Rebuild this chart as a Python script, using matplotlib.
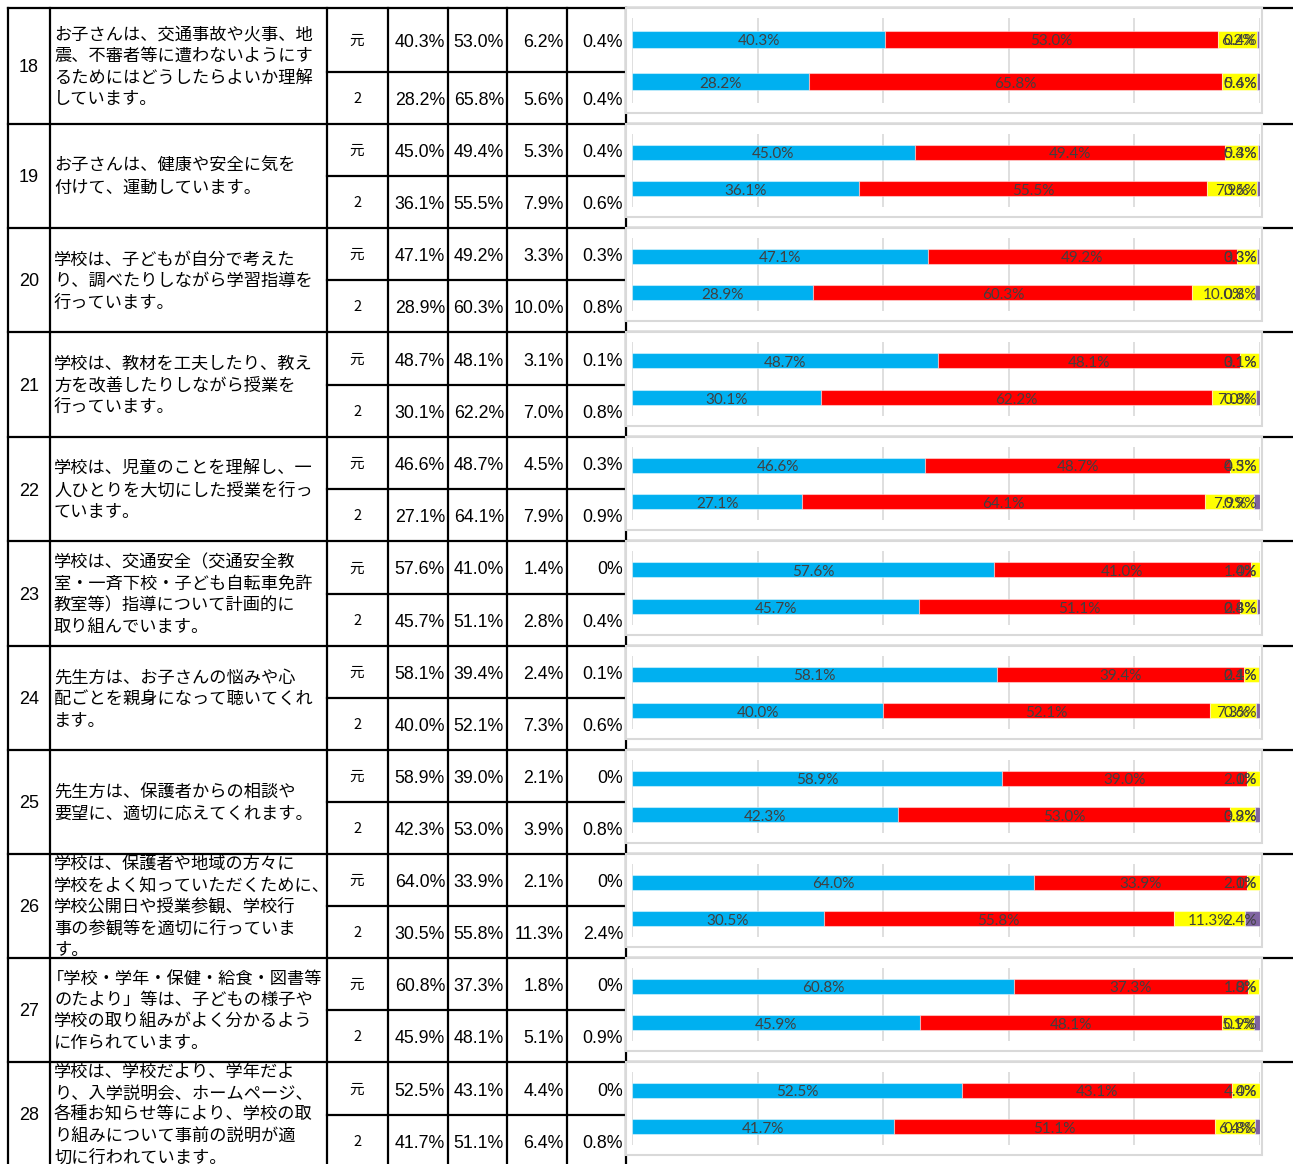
import matplotlib
matplotlib.use("Agg")
import matplotlib.pyplot as plt
from matplotlib import font_manager
from matplotlib.patches import Rectangle

# ---- data -------------------------------------------------------------
items = ["18", "19", "20", "21", "22", "23", "24", "25", "26", "27", "28"]
questions = [
    ["お子さんは、交通事故や火事、地", "震、不審者等に遭わないようにす", "るためにはどうしたらよいか理解", "しています。"],
    ["お子さんは、健康や安全に気を", "付けて、運動しています。"],
    ["学校は、子どもが自分で考えた", "り、調べたりしながら学習指導を", "行っています。"],
    ["学校は、教材を工夫したり、教え", "方を改善したりしながら授業を", "行っています。"],
    ["学校は、児童のことを理解し、一", "人ひとりを大切にした授業を行っ", "ています。"],
    ["学校は、交通安全（交通安全教", "室・一斉下校・子ども自転車免許", "教室等）指導について計画的に", "取り組んでいます。"],
    ["先生方は、お子さんの悩みや心", "配ごとを親身になって聴いてくれ", "ます。"],
    ["先生方は、保護者からの相談や", "要望に、適切に応えてくれます。"],
    ["学校は、保護者や地域の方々に", "学校をよく知っていただくために、", "学校公開日や授業参観、学校行", "事の参観等を適切に行っていま", "す。"],
    ["「学校・学年・保健・給食・図書等", "のたより」等は、子どもの様子や", "学校の取り組みがよく分かるよう", "に作られています。"],
    ["学校は、学校だより、学年だよ", "り、入学説明会、ホームページ、", "各種お知らせ等により、学校の取", "り組みについて事前の説明が適", "切に行われています。"],
]
years = ["元", "2"]
# [元, 2] per item
agree = [[40.3, 28.2], [45.0, 36.1], [47.1, 28.9], [48.7, 30.1], [46.6, 27.1], [57.6, 45.7],
         [58.1, 40.0], [58.9, 42.3], [64.0, 30.5], [60.8, 45.9], [52.5, 41.7]]
some_agree = [[53.0, 65.8], [49.4, 55.5], [49.2, 60.3], [48.1, 62.2], [48.7, 64.1], [41.0, 51.1],
              [39.4, 52.1], [39.0, 53.0], [33.9, 55.8], [37.3, 48.1], [43.1, 51.1]]
some_disagree = [[6.2, 5.6], [5.3, 7.9], [3.3, 10.0], [3.1, 7.0], [4.5, 7.9], [1.4, 2.8],
                 [2.4, 7.3], [2.1, 3.9], [2.1, 11.3], [1.8, 5.1], [4.4, 6.4]]
disagree = [[0.4, 0.4], [0.4, 0.6], [0.3, 0.8], [0.1, 0.8], [0.3, 0.9], [0.0, 0.4],
            [0.1, 0.6], [0.0, 0.8], [0.0, 2.4], [0.0, 0.9], [0.0, 0.8]]
series = [agree, some_agree, some_disagree, disagree]
colors = ["#00B0F0", "#FF0000", "#FFFF00", "#8064A2"]

# ---- layout (pixels) --------------------------------------------------
W, H = 1293, 1164
block_top = [8, 124, 228, 332, 437, 541, 646, 750, 854, 958, 1062]
block_mid = [72, 176, 280, 385, 489, 594, 698, 802, 906, 1010, 1115]
block_bot = block_top[1:] + [1166]
col_x = [8, 50, 327, 388, 448, 507, 567, 626]
plot_l, plot_r = 632, 1260
box_l, box_r = 626, 1262

_names = {f.name for f in font_manager.fontManager.ttflist}
if "Liberation Sans Narrow" in _names:
    NUM_FONT, NUM_SIZE, ID_SIZE = "Liberation Sans Narrow", 15, 14
else:
    NUM_FONT, NUM_SIZE, ID_SIZE = "Liberation Sans", 12.8, 13
JP = ["Noto Sans CJK JP", "DejaVu Sans"]
LABEL_FONT = "Lato" if "Lato" in _names else "DejaVu Sans"


def fmt(v):
    return "0%" if v == 0 else f"{v:.1f}%"


fig = plt.figure(figsize=(W / 100, H / 100), dpi=100)
bg = fig.add_axes([0, 0, 1, 1])
bg.set_xlim(0, W)
bg.set_ylim(H, 0)
bg.axis("off")

lw = 1.6
# table grid
for t in block_top:
    bg.plot([col_x[0], W], [t, t], color="black", lw=lw, zorder=1)
for m in block_mid:
    bg.plot([col_x[2], col_x[-1]], [m, m], color="black", lw=lw, zorder=1)
for x in col_x:
    bg.plot([x, x], [block_top[0], H], color="black", lw=lw, zorder=1)

labels = []
for i, item in enumerate(items):
    top, mid, bot = block_top[i], block_mid[i], block_bot[i]
    cy = (top + bot) / 2
    bg.text(29, cy + 2, item, ha="center", va="center", family=NUM_FONT, fontsize=ID_SIZE)
    lines = questions[i]
    n = len(lines)
    for k, line in enumerate(lines):
        y = cy + (k - (n - 1) / 2) * 21.6 + 1
        # full-width opening bracket carries its own left padding
        x0 = 47 if line.startswith("「") else 54
        bg.text(x0, y, line, ha="left", va="center", family=JP, fontsize=12.4)
    rows_y = [(top + mid) / 2, (mid + bot) / 2]
    for j, yr in enumerate(years):
        bg.text(357, rows_y[j] + 1, yr, ha="center", va="center", family=JP, fontsize=10.5)
        for s in range(4):
            bg.text(col_x[s + 4] - 3, rows_y[j] + 2.5, fmt(series[s][i][j]), ha="right",
                    va="center", family=NUM_FONT, fontsize=NUM_SIZE)

    # chart panel
    box_t, box_b = top, bot - 11
    bg.add_patch(Rectangle((box_l, box_t), box_r - box_l, box_b - box_t, facecolor="white",
                           edgecolor="#D9D9D9", lw=1.5, zorder=5))
    p_t, p_b = box_t + 10, box_b - 10
    ax = fig.add_axes([plot_l / W, 1 - p_b / H, (plot_r - plot_l) / W, (p_b - p_t) / H])
    ax.set_xlim(0, 100)
    ax.set_ylim(1.5, -0.5)
    ax.patch.set_alpha(0)
    for sp in ax.spines.values():
        sp.set_visible(False)
    ax.set_xticks([0, 20, 40, 60, 80, 100])
    ax.set_yticks([])
    ax.tick_params(length=0, labelbottom=False)
    ax.grid(axis="x", color="#D9D9D9", lw=1.2)
    ax.set_axisbelow(True)
    for j in range(2):
        left = 0.0
        for s in range(4):
            v = series[s][i][j]
            ax.barh(j, v, left=left, height=0.4, color=colors[s],
                    edgecolor=(1, 1, 1, 0.45), lw=0.8)
            t = ax.annotate(fmt(v), (left + v / 2, j), xytext=(0, -1.5),
                            textcoords="offset points", ha="center", va="center",
                            family=LABEL_FONT, fontsize=11, color="#404040")
            labels.append((ax, t))
            left += v

# keep the labels inside the plot area, like the spreadsheet does
fig.canvas.draw()
r = fig.canvas.get_renderer()
limit = plot_r - 3
for ax, t in labels:
    bb = t.get_window_extent(r)
    if bb.x1 > limit:
        x, y = t.xy
        t.xy = (x - (bb.x1 - limit) * 100 / (plot_r - plot_l), y)

fig.savefig("out.png", dpi=100, facecolor="white")
